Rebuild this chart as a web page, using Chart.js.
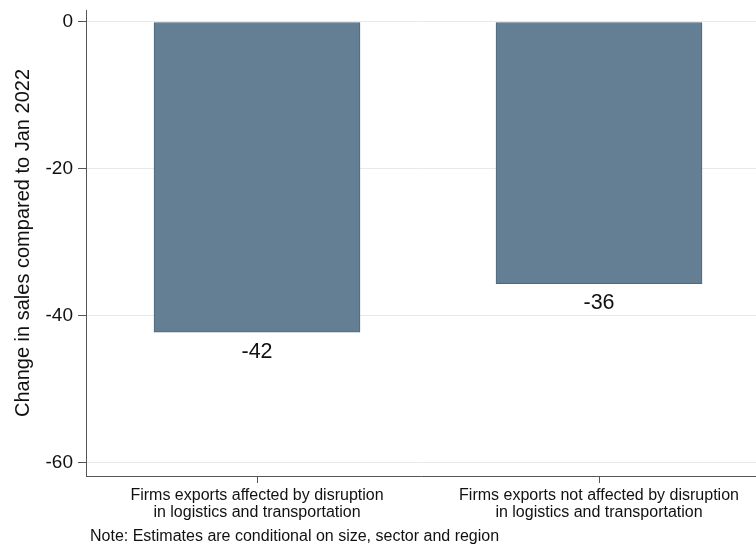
<!DOCTYPE html>
<html>
<head>
<meta charset="utf-8">
<script src="https://cdn.jsdelivr.net/npm/chart.js@4/dist/chart.umd.min.js"></script>
<style>
    body { margin: 0; background: #fff; }
    #wrap { width: 756px; height: 546px; position: relative; }
</style>
</head>
<body>
<div id="wrap"><canvas id="salesChart"></canvas></div>
<script>
// values
const categories = [
    ['Firms exports affected by disruption', 'in logistics and transportation'],
    ['Firms exports not affected by disruption', 'in logistics and transportation']
];
const salesChange = [-42.2, -35.6];
const yTicks = [0, -20, -40, -60];
const yTitle = 'Change in sales compared to Jan 2022';
const note = 'Note: Estimates are conditional on size, sector and region';

const FONT = "'Liberation Sans', Arial, sans-serif";
const axisColor = '#555555';

// labels under each bar plus the note at the bottom
const labelPlugin = {
    id: 'barLabels',
    afterDatasetsDraw(chart) {
        const ctx = chart.ctx;
        const meta = chart.getDatasetMeta(0);
        ctx.save();
        ctx.fillStyle = '#111';
        ctx.font = '21.5px ' + FONT;
        ctx.textAlign = 'center';
        ctx.textBaseline = 'top';
        meta.data.forEach((bar, i) => {
            ctx.fillText(String(Math.round(salesChange[i])), bar.x, bar.y + 9);
        });
        ctx.font = '16px ' + FONT;
        ctx.textAlign = 'left';
        ctx.textBaseline = 'middle';
        ctx.fillText(note, chart.chartArea.left + 4, 537);
        ctx.restore();
    }
};

const ctx = document.getElementById('salesChart').getContext('2d');
new Chart(ctx, {
    type: 'bar',
    data: {
        datasets: [{
            data: salesChange.map((v, i) => ({ x: i + 1, y: v })),
            backgroundColor: '#647f93',
            borderColor: '#486880',
            borderWidth: 1,
            borderSkipped: false,
            barThickness: 206
        }]
    },
    options: {
        responsive: true,
        maintainAspectRatio: false,
        animation: false,
        layout: { padding: { top: 10, right: 0, left: 0, bottom: 0 } },
        plugins: {
            legend: { display: false },
            tooltip: { enabled: false }
        },
        scales: {
            x: {
                type: 'linear',
                min: 0.5,
                max: 2.459,
                offset: false,
                afterBuildTicks: scale => {
                    scale.ticks = categories.map((c, i) => ({ value: i + 1 }));
                },
                afterFit: scale => {
                    scale.height = 70;
                    scale.paddingLeft = 0;
                    scale.paddingRight = 0;
                },
                ticks: {
                    autoSkip: false,
                    maxRotation: 0,
                    padding: 4,
                    color: '#111',
                    font: { family: FONT, size: 16, lineHeight: 1.07 },
                    callback: v => categories[v - 1]
                },
                grid: {
                    offset: false,
                    drawOnChartArea: false,
                    tickLength: 7,
                    tickColor: axisColor
                },
                border: { color: axisColor, width: 1 }
            },
            y: {
                min: -61.77,
                max: 1.63,
                afterBuildTicks: scale => {
                    scale.ticks = yTicks.map(v => ({ value: v }));
                },
                afterFit: scale => {
                    scale.width = 86;
                    scale.paddingTop = 0;
                    scale.paddingBottom = 0;
                },
                ticks: {
                    padding: 5,
                    color: '#111',
                    font: { family: FONT, size: 19 },
                    callback: v => String(v)
                },
                grid: {
                    color: '#e8e8e8',
                    tickLength: 8,
                    tickColor: axisColor
                },
                border: { color: axisColor, width: 1 },
                title: {
                    display: true,
                    text: yTitle,
                    color: '#111',
                    font: { family: FONT, size: 20 },
                    padding: { top: 11, bottom: 0 }
                }
            }
        }
    },
    plugins: [labelPlugin]
});
</script>
</body>
</html>
